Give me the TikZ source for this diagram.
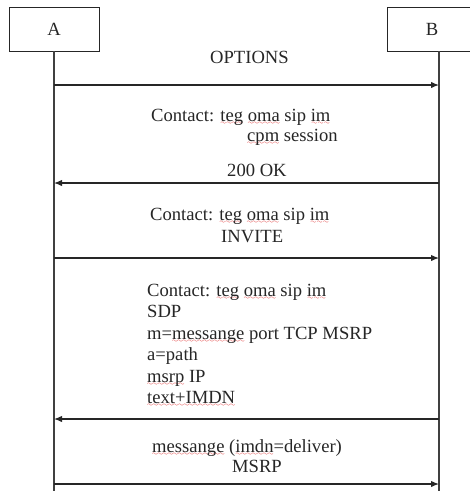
\documentclass[tikz,border=0pt]{standalone}
\usepackage{fontspec}
\setmainfont{Liberation Serif}
\usetikzlibrary{arrows.meta}
\font\wavefont=lasy6
\newsavebox\wavebox
\newcommand\redwave[1]{\sbox\wavebox{#1}\rlap{\lower3.5pt\hbox to\wd\wavebox{\color{red!85!black}\xleaders\hbox{\wavefont\char58}\hfil}}\usebox\wavebox}
\begin{document}
\begin{tikzpicture}[x=1pt,y=-1pt,
  every node/.style={font=\fontsize{18.6}{21}\selectfont, text=black!85, inner sep=0pt},
  actor/.style={draw=black!85, line width=1pt, minimum height=44pt},
  life/.style={line width=1.3pt, draw=black!75},
  msg/.style={line width=1.3pt, draw=black!85, -{Latex[length=8pt,width=6.5pt]}},
  lbl/.style={anchor=base west}]
\clip (0,0) rectangle (470,491);
% actors
\node[actor, minimum width=90pt] (A) at (54,29) {A};
\node[actor, minimum width=90pt] (B) at (432,29) {B};
% lifelines
\coordinate (atop) at (54,51);
\coordinate (abot) at (54,495);
\coordinate (btop) at (439,51);
\coordinate (bbot) at (439,495);
\draw[life] (atop) -- (abot);
\draw[life] (btop) -- (bbot);
% message anchors
\foreach \n/\y in {1/85,2/183,3/258,4/419,5/484} {
  \coordinate (a\n) at (54,\y);
  \coordinate (b\n) at (439,\y);
}
\draw[msg] (a1) -- (b1);
\draw[msg] (b2) -- (a2);
\draw[msg] (a3) -- (b3);
\draw[msg] (b4) -- (a4);
\draw[msg] (a5) -- (b5);
% labels
\node[lbl] (t1) at (210,63) {OPTIONS};
\node[lbl] (t2) at (151,121) {Contact: \redwave{teg} \redwave{oma} sip \redwave{im}};
\node[lbl] (t3) at (247,141) {\redwave{cpm} session};
\node[lbl] (t4) at (227,176) {200 OK};
\node[lbl] (t5) at (150,220) {Contact: \redwave{teg} \redwave{oma} sip \redwave{im}};
\node[lbl] (t6) at (221,242) {INVITE};
\node[lbl] (t7) at (147,296) {Contact: \redwave{teg} \redwave{oma} sip \redwave{im}};
\node[lbl] (t8) at (147,317) {SDP};
\node[lbl] (t9) at (147,339) {m=\redwave{messange} port TCP MSRP};
\node[lbl] (t10) at (147,360) {a=path};
\node[lbl] (t11) at (147,382) {\redwave{msrp} IP};
\node[lbl] (t12) at (147,403) {\redwave{text+IMDN}};
\node[lbl] (t13) at (152,452) {\redwave{messange} (\redwave{imdn}=deliver)};
\node[lbl] (t14) at (232,472) {MSRP};
\end{tikzpicture}
\end{document}
